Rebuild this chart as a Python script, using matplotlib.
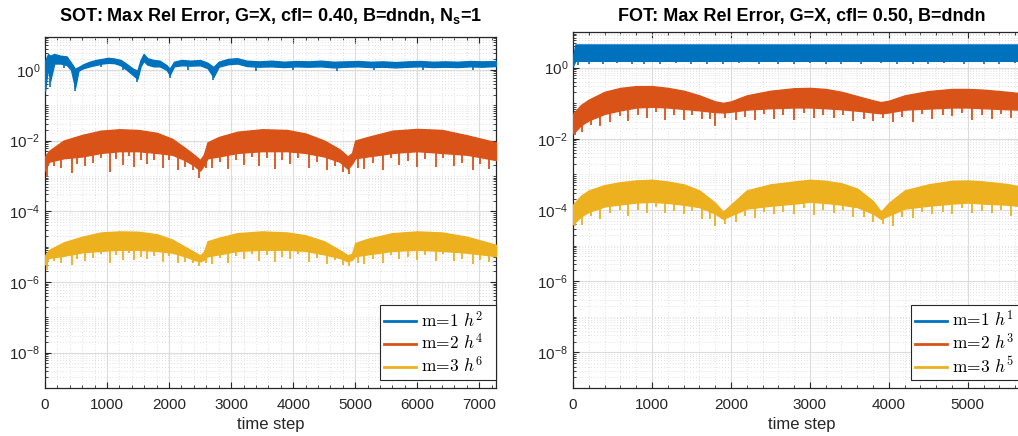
import numpy as np
import matplotlib
matplotlib.use("Agg")
import matplotlib.pyplot as plt
from matplotlib.font_manager import FontProperties
from matplotlib.ticker import FixedLocator, LogLocator, MultipleLocator, NullFormatter, LogFormatterMathtext

# ---------------- data (log10 of error) ----------------
# Left panel: SOT
sot_blue_x = [0, 50, 80, 150, 250, 350, 420, 485, 540, 620, 720, 820, 920, 1020, 1120, 1220, 1320, 1420, 1490,
              1540, 1590, 1650, 1750, 1850, 1960, 2010, 2080, 2200, 2350, 2500, 2620, 2715, 2800, 2950, 3100,
              3250, 3450, 3650, 3850, 4050, 4250, 4450, 4650, 4850, 5050, 5250, 5450, 5650, 5850, 6050, 6250,
              6450, 6650, 6850, 7050, 7270]
sot_blue_hi = [0.25, 0.45, 0.40, 0.45, 0.40, 0.38, 0.20, 0.03, 0.08, 0.16, 0.23, 0.28, 0.31, 0.34, 0.32, 0.28, 0.16,
               0.03, -0.02, 0.28, 0.45, 0.33, 0.28, 0.26, 0.13, 0.03, 0.23, 0.28, 0.26, 0.28, 0.20, 0.08, 0.23, 0.31,
               0.33, 0.26, 0.24, 0.26, 0.23, 0.25, 0.24, 0.26, 0.23, 0.24, 0.25, 0.23, 0.24, 0.22, 0.24, 0.25, 0.23,
               0.24, 0.23, 0.25, 0.24, 0.25]
sot_blue_lo = [-0.60, 0.10, -0.33, 0.18, 0.18, 0.14, 0.00, -0.50, -0.02, 0.05, 0.10, 0.14, 0.18, 0.20, 0.19, 0.13,
               0.00, -0.15, -0.25, 0.10, 0.25, 0.15, 0.10, 0.10, 0.00, -0.14, 0.10, 0.13, 0.12, 0.13, 0.05,
               -0.20, 0.09, 0.16, 0.18, 0.11, 0.09, 0.10, 0.08, 0.10, 0.09, 0.10, 0.07, 0.09, 0.10, 0.08, 0.09,
               0.07, 0.09, 0.10, 0.08, 0.09, 0.08, 0.10, 0.09, 0.11]
sot_blue_dip_x = [80, 300, 485, 900, 1250, 1490, 2010, 2300, 2715, 3400, 4000, 4700, 5300, 6100, 6900]
sot_blue_dip_len = [0.15, 0.10, 0.10, 0.10, 0.10, 0.10, 0.10, 0.12, 0.10, 0.12, 0.10, 0.12, 0.10, 0.10, 0.10]

sot_x = [0, 60, 300, 600, 900, 1200, 1500, 1800, 2050, 2250, 2400, 2500, 2560, 2620, 2800, 3100, 3500, 3900,
         4200, 4500, 4750, 4880, 4950, 5000, 5200, 5600, 6000, 6400, 6800, 7270]
sot_orange_hi = [-2.45, -2.30, -2.00, -1.84, -1.72, -1.68, -1.70, -1.78, -1.95, -2.20, -2.40, -2.55, -2.40, -2.05,
                 -1.90, -1.75, -1.68, -1.70, -1.80, -2.00, -2.25, -2.45, -2.35, -2.00, -1.90, -1.72, -1.67, -1.70,
                 -1.85, -2.05]
sot_orange_lo = [-2.85, -2.60, -2.50, -2.45, -2.35, -2.30, -2.30, -2.35, -2.40, -2.55, -2.70, -2.85, -2.70, -2.50,
                 -2.45, -2.35, -2.30, -2.30, -2.35, -2.45, -2.60, -2.80, -2.65, -2.50, -2.45, -2.35, -2.30, -2.35,
                 -2.40, -2.55]
sot_yellow_hi = [-5.25, -5.10, -4.88, -4.72, -4.60, -4.57, -4.58, -4.65, -4.80, -5.00, -5.15, -5.25, -5.15, -4.85,
                 -4.75, -4.62, -4.57, -4.60, -4.68, -4.85, -5.10, -5.25, -5.20, -4.90, -4.78, -4.62, -4.57, -4.60,
                 -4.72, -4.95]
sot_yellow_lo = [-5.50, -5.32, -5.26, -5.16, -5.12, -5.09, -5.09, -5.12, -5.17, -5.27, -5.37, -5.42, -5.37, -5.27,
                 -5.22, -5.12, -5.09, -5.09, -5.12, -5.22, -5.32, -5.42, -5.37, -5.27, -5.22, -5.12, -5.09, -5.12,
                 -5.17, -5.27]
sot_spike_x = [30, 150, 260, 430, 520, 650, 780, 900, 1040, 1150, 1250, 1360, 1430, 1550, 1650, 1760, 1900, 2000,
               2150, 2260, 2380, 2480, 2600, 2700, 2820, 2950, 3080, 3200, 3330, 3450, 3580, 3700, 3820, 3950,
               4080, 4250, 4380, 4550, 4680, 4800, 4900, 5050, 5150, 5280, 5450, 5580, 5700, 5850, 6000, 6120,
               6300, 6420, 6600, 6720, 6900, 7020, 7150]
sot_orange_spike_len = [0.30, 0.15, 0.25, 0.45, 0.20, 0.30, 0.25, 0.15, 0.55, 0.20, 0.40, 0.15, 0.45, 0.25, 0.35,
                        0.20, 0.40, 0.15, 0.35, 0.20, 0.15, 0.25, 0.20, 0.30, 0.15, 0.40, 0.20, 0.35, 0.15, 0.40,
                        0.20, 0.50, 0.25, 0.35, 0.15, 0.40, 0.20, 0.35, 0.15, 0.20, 0.20, 0.30, 0.35, 0.20, 0.45,
                        0.15, 0.35, 0.25, 0.45, 0.20, 0.40, 0.15, 0.35, 0.25, 0.40, 0.20, 0.30]
sot_yellow_spike_len = [0.25, 0.10, 0.20, 0.30, 0.15, 0.25, 0.20, 0.10, 0.35, 0.15, 0.30, 0.10, 0.30, 0.20, 0.25,
                        0.15, 0.30, 0.10, 0.25, 0.15, 0.10, 0.15, 0.15, 0.25, 0.10, 0.30, 0.15, 0.25, 0.10, 0.30,
                        0.15, 0.35, 0.20, 0.25, 0.10, 0.30, 0.15, 0.25, 0.10, 0.15, 0.15, 0.20, 0.25, 0.15, 0.30,
                        0.10, 0.25, 0.20, 0.30, 0.15, 0.30, 0.10, 0.25, 0.20, 0.30, 0.15, 0.20]

# Right panel: FOT
fot_blue_x = [0, 30, 1000, 2000, 3000, 4000, 5000, 5800]
fot_blue_hi = [0.30, 0.65, 0.65, 0.65, 0.65, 0.65, 0.65, 0.65]
fot_blue_lo = [0.05, 0.19, 0.19, 0.19, 0.19, 0.19, 0.19, 0.19]
fot_blue_dip_x = [60, 200, 380, 560, 750, 900, 1100, 1300, 1500, 1700, 1900, 2100, 2350, 2600, 2800, 3000, 3200,
                  3400, 3650, 3900, 4100, 4300, 4500, 4700, 4950, 5200, 5400, 5600]
fot_blue_dip_len = [0.12, 0.08, 0.10, 0.06, 0.10, 0.08, 0.10, 0.06, 0.10, 0.08, 0.10, 0.06, 0.10, 0.08, 0.10,
                    0.06, 0.10, 0.08, 0.10, 0.06, 0.10, 0.08, 0.10, 0.06, 0.10, 0.08, 0.10, 0.06]

fot_x = [0, 100, 200, 400, 600, 800, 1000, 1200, 1400, 1600, 1800, 1900, 2000, 2200, 2500, 2800, 3000, 3200,
         3400, 3600, 3800, 3900, 4000, 4200, 4500, 4800, 5000, 5200, 5500, 5800]
fot_orange_hi = [-1.30, -1.05, -0.90, -0.68, -0.57, -0.52, -0.52, -0.57, -0.65, -0.78, -0.95, -0.99, -0.95, -0.78,
                 -0.65, -0.58, -0.57, -0.60, -0.68, -0.80, -0.92, -0.97, -0.93, -0.78, -0.66, -0.60, -0.60, -0.62,
                 -0.68, -0.75]
fot_orange_lo = [-1.85, -1.62, -1.48, -1.30, -1.20, -1.12, -1.10, -1.12, -1.16, -1.20, -1.25, -1.26, -1.24, -1.18,
                 -1.14, -1.12, -1.12, -1.14, -1.17, -1.21, -1.26, -1.28, -1.26, -1.18, -1.15, -1.12, -1.12, -1.14,
                 -1.17, -1.19]
fot_yellow_hi = [-3.85, -3.60, -3.45, -3.30, -3.22, -3.17, -3.15, -3.20, -3.28, -3.45, -3.80, -4.05, -3.85, -3.45,
                 -3.28, -3.20, -3.15, -3.18, -3.25, -3.40, -3.75, -4.05, -3.80, -3.45, -3.28, -3.18, -3.17, -3.20,
                 -3.27, -3.40]
fot_yellow_lo = [-4.40, -4.18, -4.05, -3.90, -3.84, -3.79, -3.77, -3.80, -3.85, -3.92, -4.10, -4.25, -4.15, -3.96,
                 -3.88, -3.82, -3.77, -3.80, -3.85, -3.92, -4.10, -4.25, -4.15, -3.96, -3.88, -3.82, -3.79, -3.82,
                 -3.85, -3.92]
fot_spike_x = [20, 110, 230, 340, 470, 590, 700, 820, 940, 1050, 1170, 1280, 1400, 1510, 1630, 1740, 1800, 1920,
               2070, 2180, 2300, 2420, 2550, 2660, 2800, 2920, 3050, 3170, 3300, 3420, 3550, 3680, 3800, 3920,
               4050, 4170, 4300, 4420, 4550, 4680, 4800, 4930, 5050, 5180, 5300, 5420, 5550, 5680]
fot_orange_spike_len = [0.10, 0.20, 0.15, 0.30, 0.25, 0.15, 0.35, 0.20, 0.30, 0.15, 0.35, 0.20, 0.30, 0.15, 0.25,
                        0.20, 0.40, 0.15, 0.25, 0.20, 0.30, 0.15, 0.30, 0.20, 0.35, 0.15, 0.30, 0.20, 0.25, 0.15,
                        0.30, 0.20, 0.25, 0.15, 0.30, 0.20, 0.35, 0.15, 0.30, 0.20, 0.25, 0.15, 0.35, 0.20, 0.30,
                        0.15, 0.25, 0.20]
fot_yellow_spike_len = [0.10, 0.25, 0.15, 0.30, 0.20, 0.15, 0.35, 0.20, 0.30, 0.15, 0.30, 0.20, 0.25, 0.15, 0.30,
                        0.20, 0.35, 0.15, 0.25, 0.20, 0.30, 0.15, 0.25, 0.20, 0.30, 0.15, 0.35, 0.20, 0.25, 0.15,
                        0.30, 0.20, 0.25, 0.15, 0.35, 0.20, 0.30, 0.15, 0.25, 0.20, 0.30, 0.15, 0.30, 0.20, 0.25,
                        0.15, 0.30, 0.20]

labels_sot = [r'$\mathrm{m\!=\!1}\ h^{2}$', r'$\mathrm{m\!=\!2}\ h^{4}$', r'$\mathrm{m\!=\!3}\ h^{6}$']
labels_fot = [r'$\mathrm{m\!=\!1}\ h^{1}$', r'$\mathrm{m\!=\!2}\ h^{3}$', r'$\mathrm{m\!=\!3}\ h^{5}$']
title_sot = r'SOT: Max Rel Error, G=X, cfl= 0.40, B=dndn, N$_\mathbf{s}$=1'
title_fot = 'FOT: Max Rel Error, G=X, cfl= 0.50, B=dndn'

# ---------------- style ----------------
C1, C2, C3 = '#0072BD', '#D95319', '#EDB120'
TXT = '#262626'
plt.rcParams['font.family'] = ['Liberation Sans', 'DejaVu Sans']
plt.rcParams['mathtext.fontset'] = 'custom'
plt.rcParams['mathtext.rm'] = 'Liberation Sans'
plt.rcParams['mathtext.it'] = 'Liberation Sans:italic'
plt.rcParams['mathtext.bf'] = 'Liberation Sans:bold'

W, H = 1018, 436
fig = plt.figure(figsize=(W / 100, H / 100), dpi=100)


def px_axes(l, t, r, b):
    return fig.add_axes([l / W, 1 - b / H, (r - l) / W, (b - t) / H])


def band(ax, x, hi, lo, color):
    x = np.asarray(x, float)
    ax.fill_between(x, 10 ** np.asarray(hi), 10 ** np.asarray(lo), color=color, lw=1.0,
                    edgecolor=color, zorder=3)


def spikes(ax, sx, slen, x, lo, color, lw=1.3):
    sx = np.asarray(sx, float)
    base = np.interp(sx, x, lo)
    ax.vlines(sx, 10 ** (base - np.asarray(slen)), 10 ** (base + 0.08), color=color, lw=lw, zorder=3)


def style(ax, xmax, ymax, title, labels, title_pad, leg_left_px):
    ax.set_yscale('log')
    ax.set_xlim(0, xmax)
    ax.set_ylim(1e-9, ymax)
    ax.yaxis.set_major_locator(FixedLocator([1e-8, 1e-6, 1e-4, 1e-2, 1]))
    ax.yaxis.set_major_formatter(LogFormatterMathtext())
    ax.yaxis.set_minor_locator(LogLocator(base=10, subs=np.arange(1, 10), numticks=40))
    ax.yaxis.set_minor_formatter(NullFormatter())
    ax.xaxis.set_major_locator(MultipleLocator(1000))
    ax.xaxis.set_minor_locator(MultipleLocator(200))
    ax.grid(True, which='major', color='#dcdcdc', lw=0.8, zorder=0)
    ax.grid(True, which='minor', color='#d8d8d8', lw=0.6, ls=(0, (1, 2.5)), zorder=0)
    ax.set_axisbelow(True)
    ax.tick_params(which='both', direction='in', top=True, right=True, colors=TXT,
                   labelsize=11, labelcolor=TXT)
    ax.tick_params(axis='x', which='major', pad=7)
    ax.tick_params(which='major', length=4)
    ax.tick_params(which='minor', length=2)
    for s in ax.spines.values():
        s.set_color(TXT)
        s.set_linewidth(0.9)
    ax.set_title(title, fontsize=13, fontweight='bold', color='black', pad=title_pad)
    ax.set_xlabel('time step', fontsize=12, color=TXT, labelpad=4)
    handles = [plt.Line2D([], [], color=c, lw=2) for c in (C1, C2, C3)]
    fp = FontProperties(size=12.5, math_fontfamily='cm')
    leg = ax.legend(handles, labels, loc='lower left',
                    bbox_to_anchor=(leg_left_px / W, 56 / H, 116 / W, 0.0), mode='expand',
                    bbox_transform=fig.transFigure, prop=fp, frameon=True, fancybox=False,
                    edgecolor=TXT, handlelength=1.8, handletextpad=0.3, borderpad=0.25,
                    labelspacing=0.15, borderaxespad=0.0, framealpha=1)
    leg.get_frame().set_linewidth(0.8)
    leg.set_zorder(10)


# ---------------- left panel ----------------
ax1 = px_axes(45, 37, 496, 388)
band(ax1, sot_blue_x, sot_blue_hi, sot_blue_lo, C1)
spikes(ax1, sot_blue_dip_x, sot_blue_dip_len, sot_blue_x, sot_blue_lo, C1, lw=1.2)
band(ax1, sot_x, sot_orange_hi, sot_orange_lo, C2)
spikes(ax1, sot_spike_x, sot_orange_spike_len, sot_x, sot_orange_lo, C2)
band(ax1, sot_x, sot_yellow_hi, sot_yellow_lo, C3)
spikes(ax1, sot_spike_x, sot_yellow_spike_len, sot_x, sot_yellow_lo, C3)
style(ax1, 7270, 10 ** 0.93, title_sot, labels_sot, 11.5, 380)

# ---------------- right panel ----------------
ax2 = px_axes(573, 32, 1031, 388)
band(ax2, fot_blue_x, fot_blue_hi, fot_blue_lo, C1)
spikes(ax2, fot_blue_dip_x, fot_blue_dip_len, fot_blue_x, fot_blue_lo, C1, lw=1.2)
band(ax2, fot_x, fot_orange_hi, fot_orange_lo, C2)
spikes(ax2, fot_spike_x, fot_orange_spike_len, fot_x, fot_orange_lo, C2)
band(ax2, fot_x, fot_yellow_hi, fot_yellow_lo, C3)
spikes(ax2, fot_spike_x, fot_yellow_spike_len, fot_x, fot_yellow_lo, C3)
style(ax2, 5800, 10, title_fot, labels_fot, 8, 911)

fig.savefig('out.png', dpi=100)
